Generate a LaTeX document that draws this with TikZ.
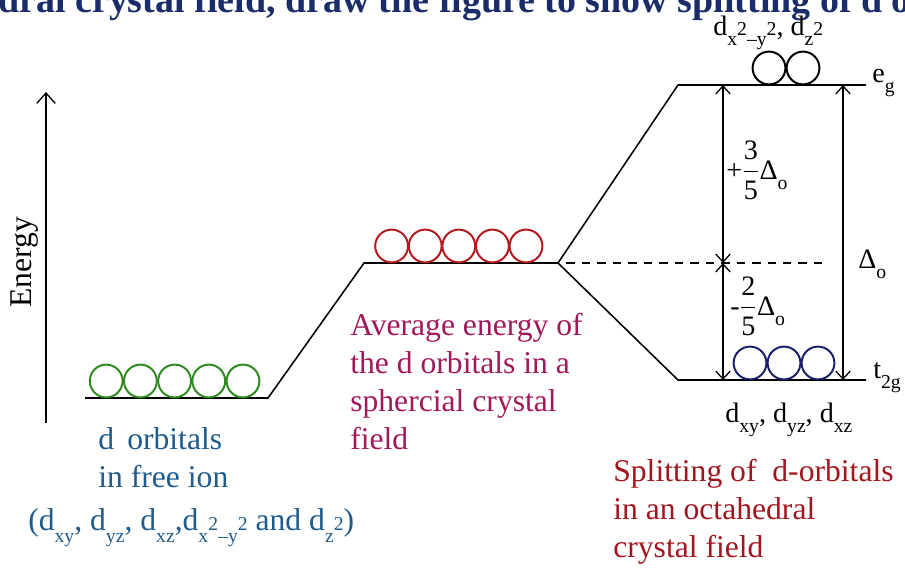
\documentclass[tikz,border=0pt]{standalone}
\usepackage{amsmath}
\usepackage{fontspec}
\setmainfont{Liberation Serif}
\usepackage{xcolor}
\definecolor{freeion}{HTML}{1F5B8C}
\definecolor{average}{HTML}{A1195B}
\definecolor{octa}{HTML}{A3161F}
\definecolor{heading}{HTML}{1B2C6B}
\definecolor{ringgreen}{HTML}{2E8A1E}
\definecolor{ringred}{HTML}{B3191C}
\definecolor{ringblue}{HTML}{1B1F6B}
\usepackage{tikz}
\usetikzlibrary{positioning,arrows.meta}
\newcommand{\lo}[1]{\raisebox{-0.38em}{\fontsize{14}{14}\selectfont #1}}
\newcommand{\hi}[1]{{\fontsize{14}{14}\selectfont #1}}

\begin{document}
\begin{tikzpicture}[x=0.025cm, y=-0.025cm,
    every node/.style={inner sep=0pt},
    caption/.style={font=\fontsize{22.5}{27}\selectfont, align=left},
    orb/.style={font=\fontsize{20}{23}\selectfont},
    level/.style={line width=1.1pt},
    ring/.style={circle, draw, line width=1.4pt, minimum size=0.82cm},
    arr/.style={-{Straight Barb[length=2.6mm,width=4.6mm]}, line width=0.9pt},
    gap/.style={{Straight Barb[length=2mm,width=3.6mm]}-{Straight Barb[length=2mm,width=3.6mm]}, line width=0.9pt}]
  \useasboundingbox (0,0) rectangle (905,567);
  \clip (0,0) rectangle (905,567);
  \node[anchor=base west, font=\fontsize{27}{30}\selectfont\bfseries, text=heading] (title) at (75,12)
    {\llap{octahedral }crystal field, draw the figure to show splitting of d orbitals};

  \coordinate (e-low) at (46,423);
  \coordinate (e-high) at (46,92);
  \draw[arr] (e-low) -- (e-high);
  \node[caption, rotate=90] (energy) at (25,262) {Energy};

  \coordinate (free-l) at (85,398);
  \coordinate (free-r) at (268,398);
  \coordinate (avg-l) at (364,263);
  \coordinate (avg-r) at (558,263);
  \coordinate (eg-l) at (678,85);
  \coordinate (eg-r) at (866,85);
  \coordinate (t2g-l) at (678,380);
  \coordinate (t2g-r) at (866,380);
  \draw[level] (free-l) -- (free-r) -- (avg-l) -- (avg-r) -- (eg-l) -- (eg-r);
  \draw[level] (avg-r) -- (t2g-l) -- (t2g-r);

  \foreach \i in {1,...,5}
    \node[ring, draw=ringgreen] (free\i) at ({72+34.2*\i},381) {};
  \foreach \i in {1,...,5}
    \node[ring, draw=ringred] (avg\i) at ({358+33.6*\i},246) {};
  \foreach \i in {1,2}
    \node[ring, draw=black] (eg\i) at ({735+34*\i},68) {};
  \foreach \i in {1,2,3}
    \node[ring, draw=ringblue] (t\i) at ({716+34*\i},363) {};

  \coordinate (bary) at (723,263);
  \coordinate (dash-end) at (828,263);
  \coordinate (eg-a) at (723,85);
  \coordinate (t2g-a) at (723,380);
  \coordinate (eg-b) at (843,85);
  \coordinate (t2g-b) at (843,380);
  \draw[level, dash pattern=on 6pt off 5pt, dash phase=-6pt] (avg-r) -- (dash-end);
  \draw[gap] (bary) -- (eg-a);
  \draw[gap] (bary) -- (t2g-a);
  \draw[gap] (t2g-b) -- (eg-b);

  \node[orb, anchor=west] (plus) at (726,170) {+$\dfrac{\mbox{3}}{\mbox{5}}$Δ\lo{o}};
  \node[orb, anchor=west] (minus) at (730,306) {-$\dfrac{\mbox{2}}{\mbox{5}}$Δ\lo{o}};
  \node[orb, anchor=base west] (delta) at (858,268) {Δ\lo{o}};
  \node[orb, anchor=base west] (eg-lbl) at (872,82) {e\lo{g}};
  \node[orb, anchor=base west] (t2g-lbl) at (873,378) {t\lo{2g}};
  \node[orb, anchor=base west] (eg-orb) at (713,35) {d\lo{x}\hi{2}\lo{–y}\hi{2}, d\lo{z}\hi{2}};
  \node[orb, anchor=base west] (t2g-orb) at (725,422) {d\lo{xy}, d\lo{yz}, d\lo{xz}};

  \node[caption, text=freeion, anchor=base west] (free-cap) at (98,487) {d\, orbitals\\in free ion};
  \node[caption, text=freeion, anchor=base west] (free-set) at (28,530)
    {(d\lo{xy}, d\lo{yz}, d\lo{xz},d\lo{x}\hi{2}\lo{–y}\hi{2} and d\lo{z}\hi{2})};
  \node[caption, text=average, anchor=base west] (avg-cap) at (350,449)
    {Average energy of\\the d orbitals in a\\sphercial crystal\\field};
  \node[caption, text=octa, anchor=base west] (octa-cap) at (613,557)
    {Splitting of \ d-orbitals\\in an octahedral\\crystal field};
\end{tikzpicture}
\end{document}
